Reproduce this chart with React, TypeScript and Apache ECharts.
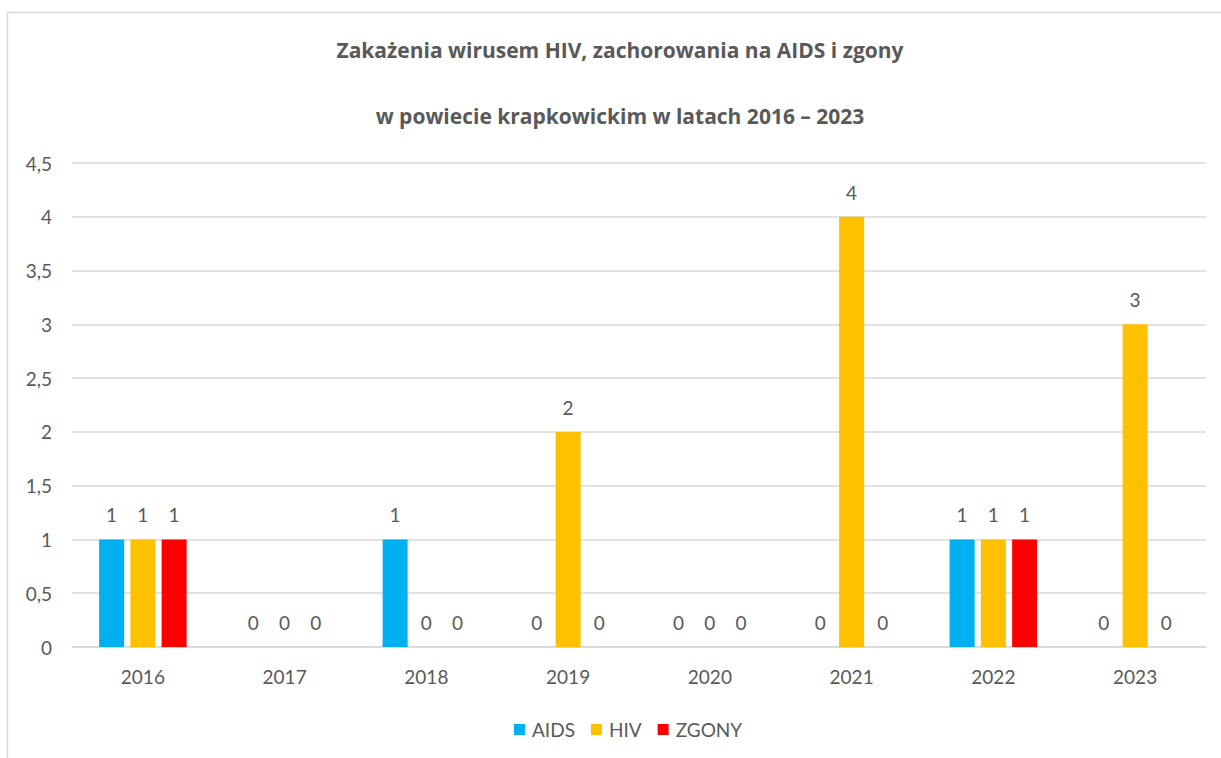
import React, { useEffect, useRef } from "react";
import * as echarts from "echarts";

const years = ["2016", "2017", "2018", "2019", "2020", "2021", "2022", "2023"];
const aids = [1, 0, 1, 0, 0, 0, 1, 0];
const hiv = [1, 0, 0, 2, 0, 4, 1, 3];
const zgony = [1, 0, 0, 0, 0, 0, 1, 0];
const titleLines = [
  "Zakażenia wirusem HIV, zachorowania na AIDS i zgony",
  "w powiecie krapkowickim w latach 2016 – 2023",
];

const FONT = "Lato, 'Noto Sans', sans-serif";
const TFONT = "'Open Sans', Lato, sans-serif";
const TXT = "#595959";
const FS = 19;

export default function App() {
  const ref = useRef<HTMLDivElement>(null);
  useEffect(() => {
    if (!ref.current) return;
    const chart = echarts.init(ref.current, undefined, { renderer: "svg" });
    const mk = (name: string, data: number[], color: string) => ({
      name,
      type: "bar",
      data,
      barWidth: 25,
      barGap: "25%",
      itemStyle: { color },
      label: {
        show: true,
        position: "top",
        distance: 15,
        color: TXT,
        fontSize: FS,
        fontFamily: FONT,
      },
    });
    const titleText = (text: string, y: number) => ({
      type: "text",
      x: 620,
      y,
      style: {
        text,
        fontSize: 21,
        fontWeight: "bold",
        fontFamily: TFONT,
        fill: TXT,
        align: "center",
        verticalAlign: "middle",
      },
    });
    chart.setOption({
      animation: false,
      textStyle: { fontFamily: FONT },
      graphic: [
        {
          type: "rect",
          shape: { x: 7.5, y: 12.5, width: 1300, height: 800 },
          style: { fill: "none", stroke: "#d9d9d9", lineWidth: 1.5 },
          silent: true,
        },
        titleText(titleLines[0], 50),
        titleText(titleLines[1], 116),
      ],
      legend: {
        top: 715,
        left: 509,
        itemWidth: 11,
        itemHeight: 11,
        itemGap: 16,
        icon: "rect",
        textStyle: { color: TXT, fontSize: FS, fontFamily: FONT, padding: [0, 0, 0, 2] },
        data: ["AIDS", "HIV", "ZGONY"],
      },
      grid: { left: 72, right: 15, top: 163, bottom: 111 },
      xAxis: {
        type: "category",
        data: years,
        axisLine: { lineStyle: { color: "#d9d9d9", width: 1.5 } },
        axisTick: { show: false },
        axisLabel: { color: TXT, fontSize: FS, margin: 20, fontFamily: FONT },
      },
      yAxis: {
        type: "value",
        min: 0,
        max: 4.5,
        interval: 0.5,
        axisLine: { show: false },
        axisTick: { show: false },
        splitLine: { lineStyle: { color: "#d9d9d9", width: 1.5 } },
        axisLabel: {
          color: TXT,
          fontSize: FS,
          margin: 20,
          fontFamily: FONT,
          formatter: (v: number) => String(v).replace(".", ","),
        },
      },
      series: [
        mk("AIDS", aids, "#00B0F0"),
        mk("HIV", hiv, "#FFC000"),
        mk("ZGONY", zgony, "#FF0000"),
      ],
    });
    return () => chart.dispose();
  }, []);
  return <div ref={ref} style={{ width: 1221, height: 758, position: "absolute", left: 0, top: 0 }} />;
}
